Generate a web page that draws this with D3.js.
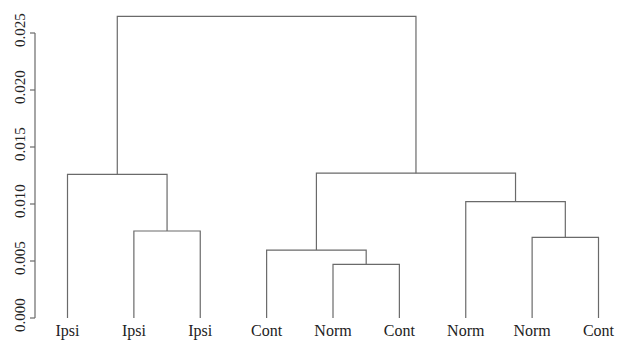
<!DOCTYPE html>
<html lang="en">
<head>
    <meta charset="UTF-8">
    <title>Dendrogram</title>
    <script src="https://d3js.org/d3.v7.min.js"></script>
</head>
<style>
    html,body {
        margin: 0;
        padding: 0;
        background: #fff;
    }
</style>
<body>
    <div id="svg"></div>
</body>
<script>
    // leaf labels in plot order
    const leafLabels = ['Ipsi', 'Ipsi', 'Ipsi', 'Cont', 'Norm', 'Cont', 'Norm', 'Norm', 'Cont'];
    // merge steps (R hclust style): negative = leaf number, positive = earlier merge
    const mergeLeft  = [-5, -4, -8, -2, -7, -1, 2, 6];
    const mergeRight = [-6,  1, -9, -3,  3,  4, 5, 7];
    const mergeHeight = [0.00471, 0.00596, 0.00708, 0.00763, 0.0102, 0.0126, 0.0127, 0.02645];
    const yTicks = [0, 0.005, 0.010, 0.015, 0.020, 0.025];

    const width = 617, height = 349;
    const svg = d3.select('#svg').append('svg')
        .attr('width', width)
        .attr('height', height);

    const x = d3.scalePoint()
        .domain(d3.range(leafLabels.length))
        .range([67.5, 598.5]);
    const y = d3.scaleLinear()
        .domain([0, 0.025])
        .range([318, 33]);

    // work out node positions
    const nodes = [];
    function getNode(id) {
        if (id < 0) {
            return { x: x(-id - 1), h: 0 };
        }
        return nodes[id - 1];
    }
    mergeHeight.forEach((h, i) => {
        const a = getNode(mergeLeft[i]);
        const b = getNode(mergeRight[i]);
        nodes.push({ x: (a.x + b.x) / 2, h: h, a: a, b: b });
    });

    svg.append('g')
        .selectAll('path')
        .data(nodes)
        .enter()
        .append('path')
        .attr('d', d => `M ${d.a.x} ${y(d.a.h)} V ${y(d.h)} H ${d.b.x} V ${y(d.b.h)}`)
        .attr('fill', 'none')
        .attr('stroke', '#6a6a6a')
        .attr('stroke-width', 1.2);

    // leaf labels
    svg.append('g')
        .selectAll('text')
        .data(leafLabels)
        .enter()
        .append('text')
        .attr('x', (d, i) => x(i))
        .attr('y', 336)
        .attr('text-anchor', 'middle')
        .style('font-family', '"Liberation Serif", serif')
        .style('font-size', '16px')
        .style('fill', '#222')
        .text(d => d);

    // y axis in R style
    const axis = svg.append('g');
    axis.append('line')
        .attr('x1', 35).attr('x2', 35)
        .attr('y1', y(0)).attr('y2', y(0.025))
        .attr('stroke', '#6a6a6a')
        .attr('stroke-width', 1.2);
    axis.selectAll('.tick')
        .data(yTicks)
        .enter()
        .append('line')
        .attr('class', 'tick')
        .attr('x1', 30).attr('x2', 35)
        .attr('y1', d => y(d)).attr('y2', d => y(d))
        .attr('stroke', '#6a6a6a')
        .attr('stroke-width', 1.2);
    axis.selectAll('.lbl')
        .data(yTicks)
        .enter()
        .append('text')
        .attr('class', 'lbl')
        .attr('transform', d => `translate(25, ${y(d) - 3}) rotate(-90)`)
        .attr('text-anchor', 'middle')
        .style('font-family', '"Liberation Serif", serif')
        .style('font-size', '15px')
        .style('fill', '#222')
        .text(d => d3.format('.3f')(d));
</script>
</html>
